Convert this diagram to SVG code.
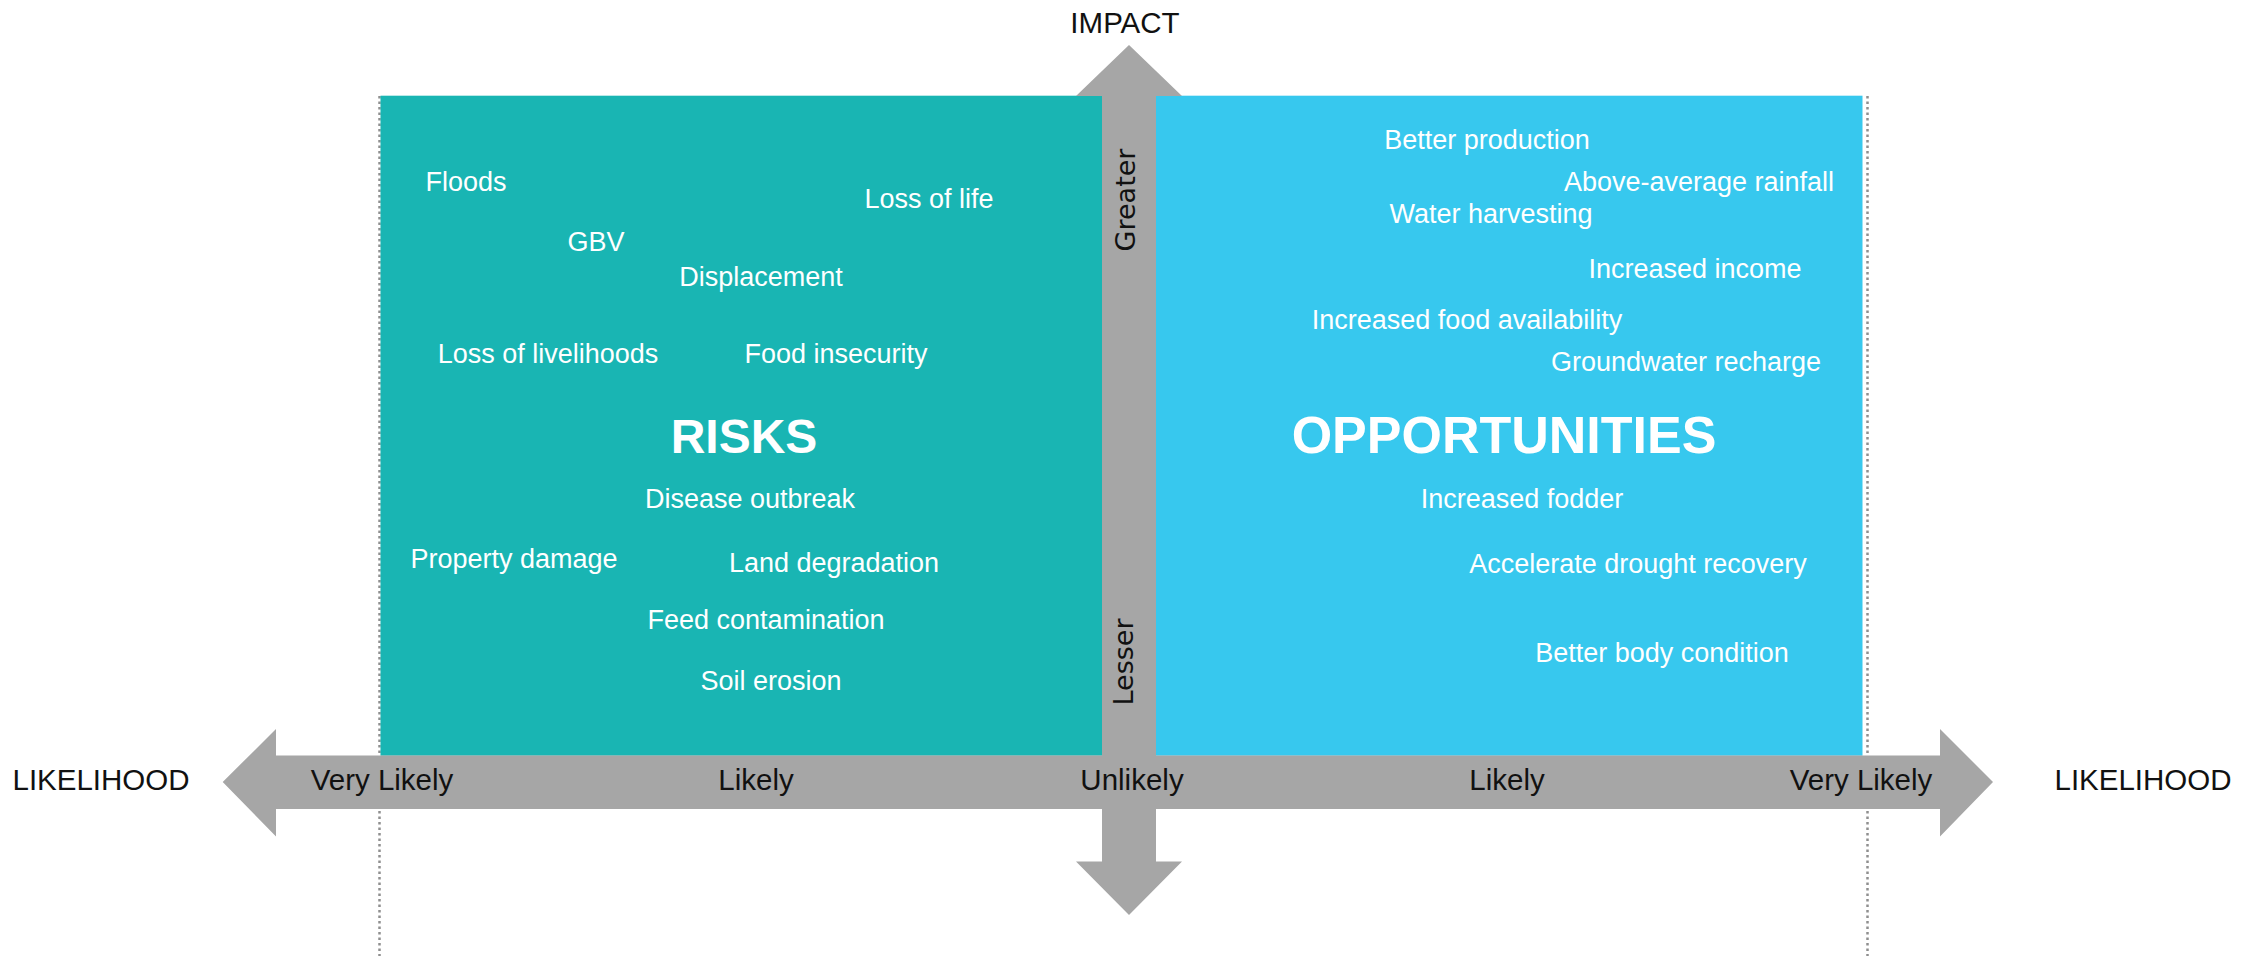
<svg xmlns="http://www.w3.org/2000/svg" width="2255" height="956" viewBox="0 0 2255 956">
<style>
.w{font-family:"Liberation Sans",Arial,sans-serif;font-size:27px;fill:#ffffff;text-anchor:middle}
.h{font-family:"Liberation Sans",Arial,sans-serif;font-weight:bold;fill:#ffffff;text-anchor:middle}
.ax{font-family:"Liberation Sans",Arial,sans-serif;font-size:29.5px;fill:#111111;text-anchor:middle}
.vt{font-family:"DejaVu Sans",sans-serif;font-size:27px;fill:#111111;text-anchor:middle}
.dot{stroke:#8f8f8f;stroke-width:2.5;stroke-dasharray:2.5 3;fill:none}
.arrow{fill:#a6a6a6}
</style>
<rect width="2255" height="956" fill="#ffffff"/>
<g id="guides">
<line class="dot" x1="379.5" y1="96" x2="379.5" y2="956"/>
<line class="dot" x1="1867.5" y1="96" x2="1867.5" y2="956"/>
</g>
<g id="risks">
<rect x="380.5" y="95.7" width="722" height="660" fill="#19b5b3"/>
<text class="w" x="466" y="191">Floods</text>
<text class="w" x="929" y="208">Loss of life</text>
<text class="w" x="596" y="251">GBV</text>
<text class="w" x="761" y="286">Displacement</text>
<text class="w" x="548" y="363">Loss of livelihoods</text>
<text class="w" x="836" y="363">Food insecurity</text>
<text class="h" x="744" y="453" font-size="48">RISKS</text>
<text class="w" x="750" y="508">Disease outbreak</text>
<text class="w" x="514" y="568">Property damage</text>
<text class="w" x="834" y="572">Land degradation</text>
<text class="w" x="766" y="629">Feed contamination</text>
<text class="w" x="771" y="690">Soil erosion</text>
</g>
<g id="opportunities">
<rect x="1156" y="95.7" width="706.5" height="660" fill="#37c8ee"/>
<text class="w" x="1487" y="149">Better production</text>
<text class="w" x="1699" y="191">Above-average rainfall</text>
<text class="w" x="1491" y="223">Water harvesting</text>
<text class="w" x="1695" y="278">Increased income</text>
<text class="w" x="1467" y="329">Increased food availability</text>
<text class="w" x="1686" y="371">Groundwater recharge</text>
<text class="h" x="1504" y="453" font-size="52">OPPORTUNITIES</text>
<text class="w" x="1522" y="508">Increased fodder</text>
<text class="w" x="1638" y="573">Accelerate drought recovery</text>
<text class="w" x="1662" y="662">Better body condition</text>
</g>
<g id="connectors">
<polygon id="likelihood-axis" class="arrow" points="222.7,782 276,729 276,755.5 1940,755.5 1940,729 1993,782 1940,836.5 1940,809 276,809 276,836.5"/>
<polygon id="impact-axis" class="arrow" points="1129,45 1076,96 1102,96 1102,861.5 1076,861.5 1129,915 1182,861.5 1156,861.5 1156,96 1182,96"/>
</g>
<g id="axis-labels">
<text class="ax" x="1125" y="33" font-size="27">IMPACT</text>
<text class="ax" x="101" y="790" font-size="28">LIKELIHOOD</text>
<text class="ax" x="2143" y="790" font-size="28">LIKELIHOOD</text>
<text class="ax" x="382" y="790">Very Likely</text>
<text class="ax" x="756" y="790">Likely</text>
<text class="ax" x="1132" y="790">Unlikely</text>
<text class="ax" x="1507" y="790">Likely</text>
<text class="ax" x="1861" y="790">Very Likely</text>
<text class="vt" transform="translate(1125,200) rotate(-90)" dy="0.36em">Greater</text>
<text class="vt" transform="translate(1123,662) rotate(-90)" dy="0.36em">Lesser</text>
</g>
</svg>
